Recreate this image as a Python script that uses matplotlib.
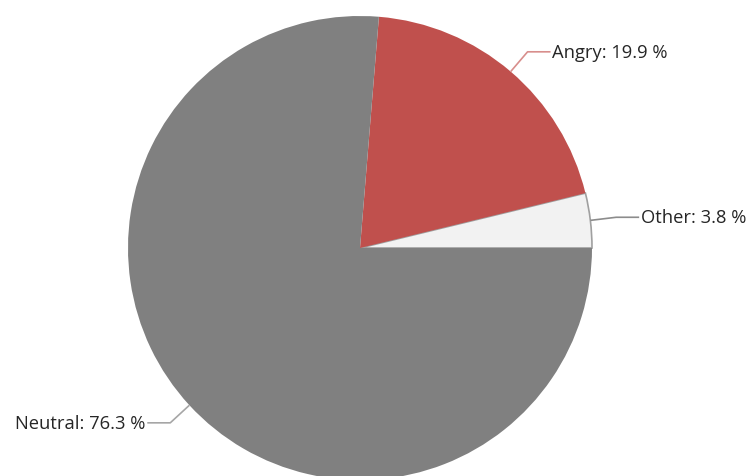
import numpy as np
import matplotlib.pyplot as plt

labels = ['Other', 'Angry', 'Neutral']
values = [3.8, 19.9, 76.3]
colors = ['#f2f2f2', '#c0504d', '#808080']
line_colors = ['#8c8c8c', '#d88e8c', '#a6a6a6']

W, H = 752, 477
cx, cy, r = 360, H - 249, 232

fig = plt.figure(figsize=(W / 100, H / 100), dpi=100)
ax = fig.add_axes([0, 0, 1, 1])

wedges, _ = ax.pie(values, colors=colors, startangle=0, counterclock=True,
                   center=(cx, cy), radius=r, frame=True,
                   wedgeprops=dict(linewidth=0))
wedges[0].set_edgecolor('#a0a0a0')
wedges[0].set_linewidth(1.2)
ax.set_xlim(0, W)
ax.set_ylim(0, H)
ax.set_aspect('equal')
ax.axis('off')

ext = 26
for w, lab, val, lc in zip(wedges, labels, values, line_colors):
    ang = np.deg2rad((w.theta1 + w.theta2) / 2)
    x0, y0 = cx + r * np.cos(ang), cy + r * np.sin(ang)
    x1, y1 = cx + (r + ext) * np.cos(ang), cy + (r + ext) * np.sin(ang)
    side = 1 if np.cos(ang) >= 0 else -1
    x2 = x1 + side * 23
    ax.plot([x0, x1, x2], [y0, y1, y1], color=lc, lw=1.2, solid_capstyle='butt')
    ax.text(x2 + side * 1.5, y1, f'{lab}: {val} %', ha='left' if side > 0 else 'right',
            va='center', fontsize=13.2, color='#262626', family='Open Sans')

fig.savefig('out.png', dpi=100)
